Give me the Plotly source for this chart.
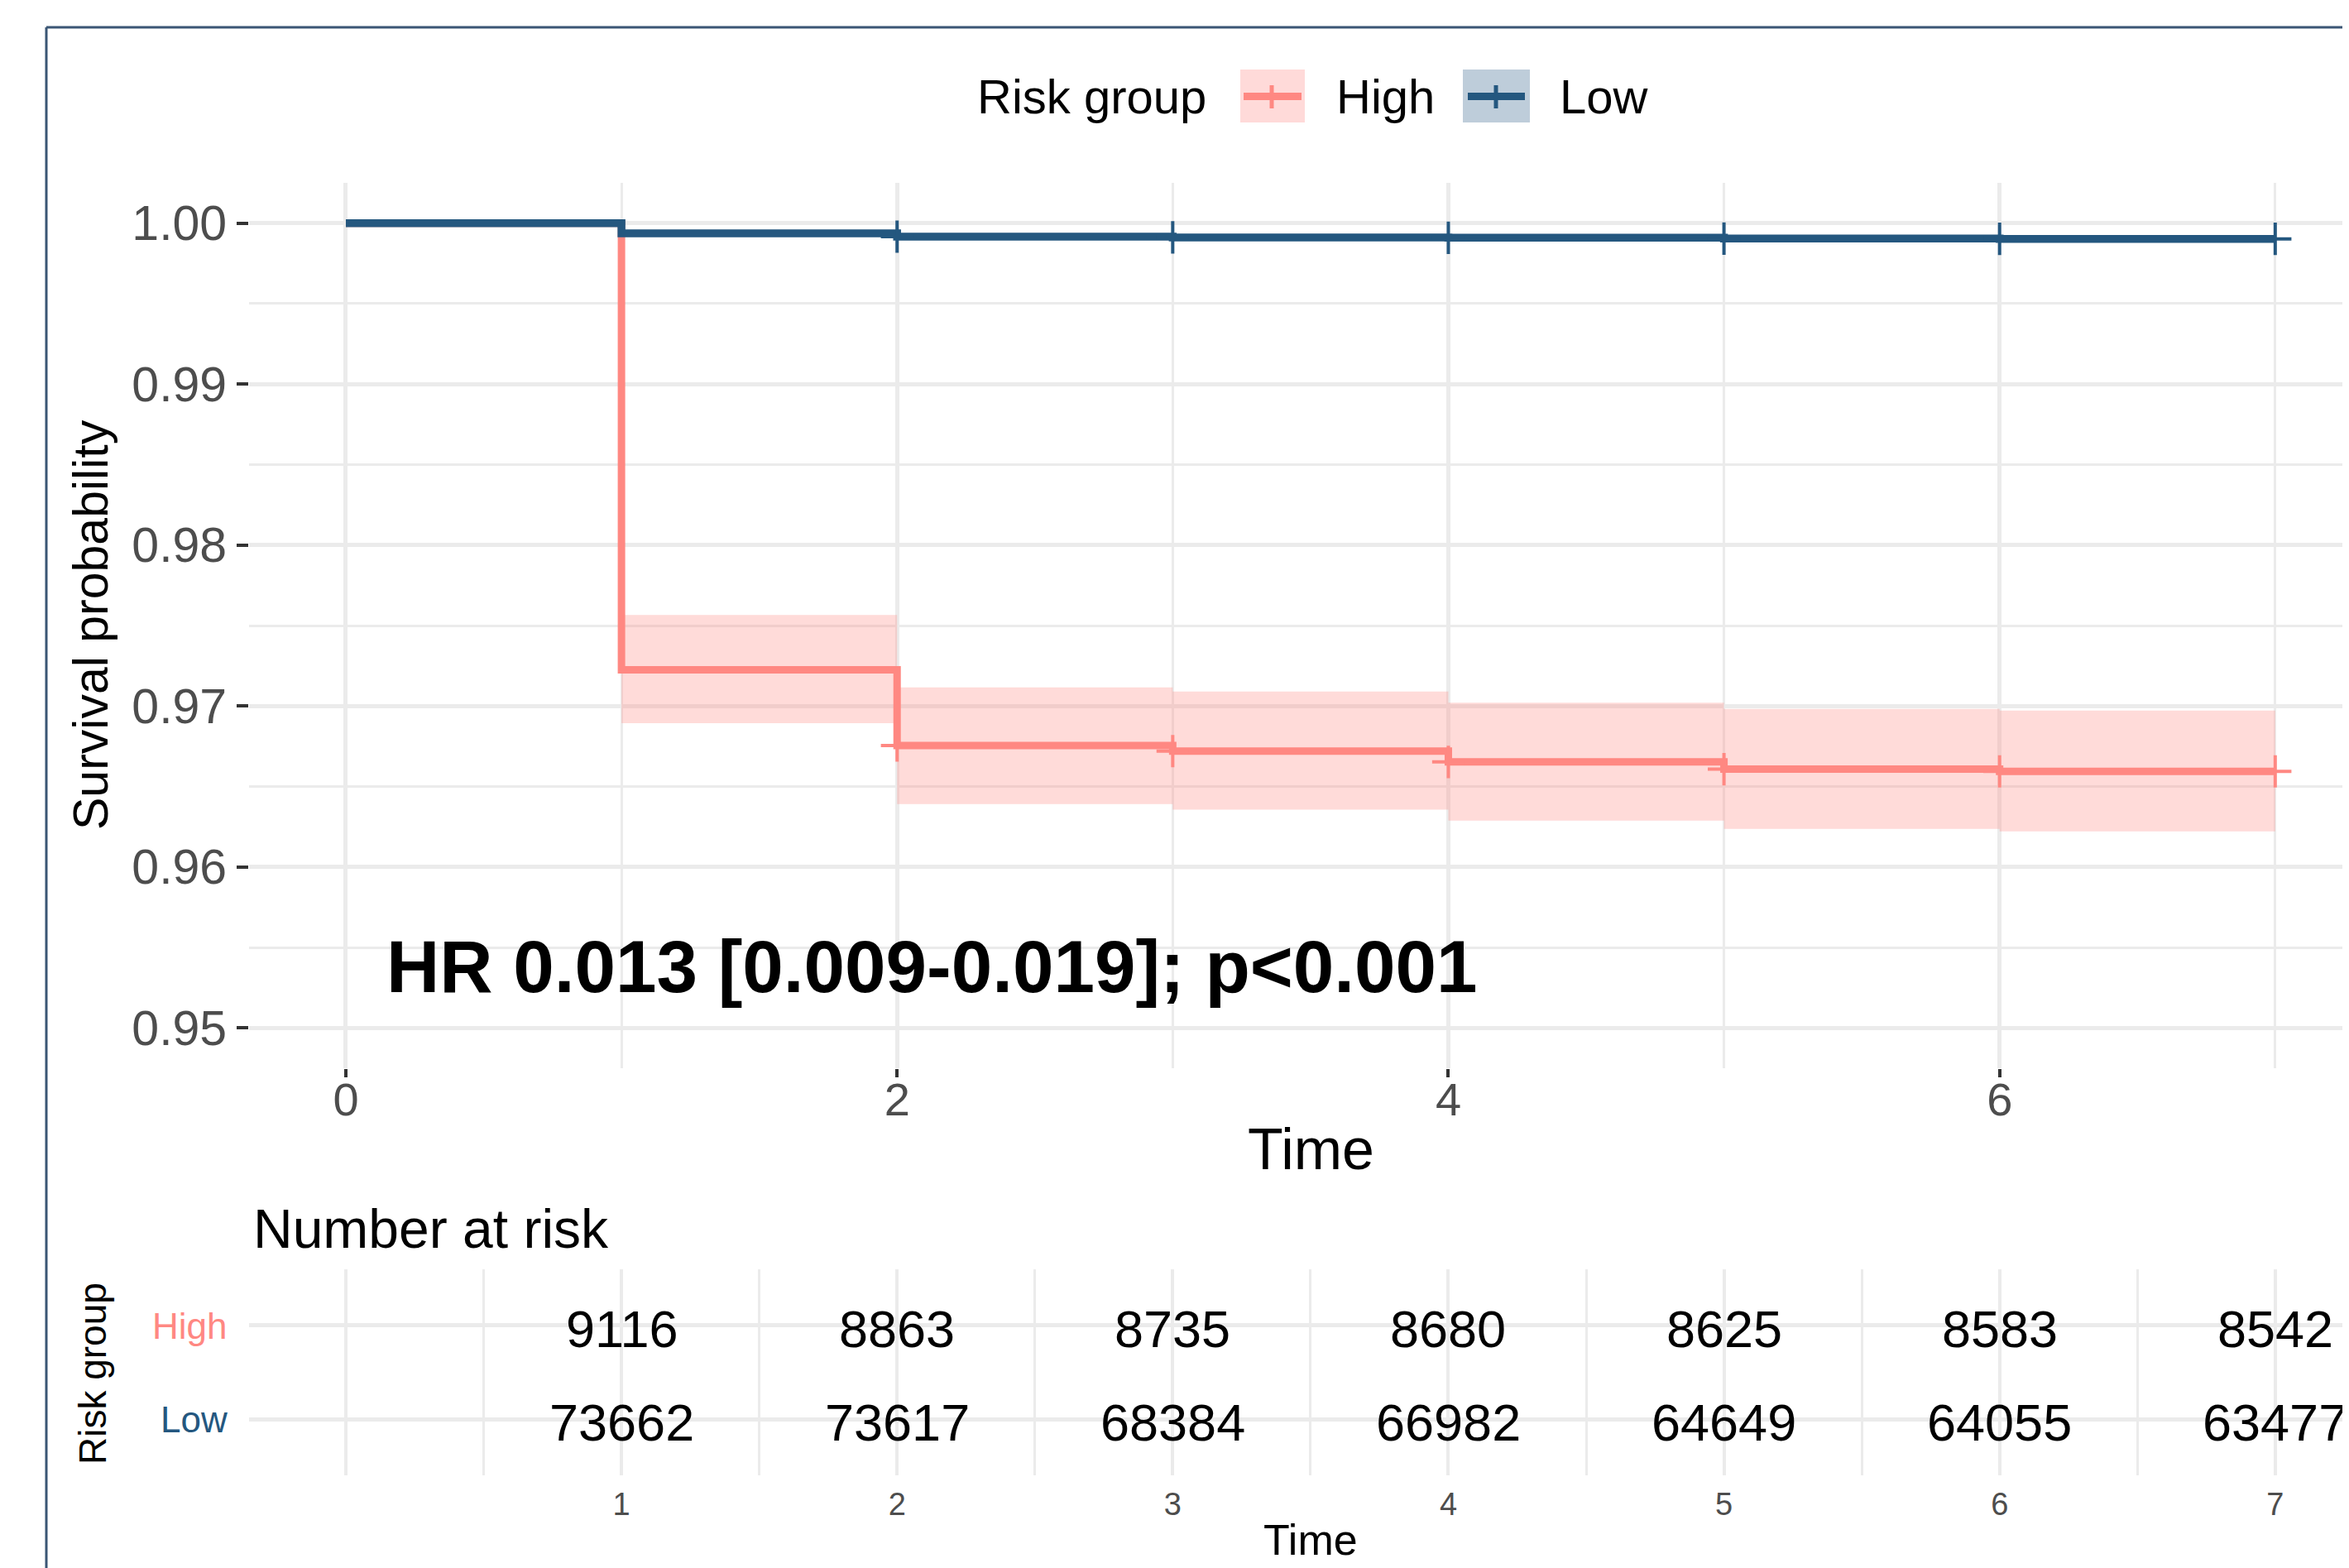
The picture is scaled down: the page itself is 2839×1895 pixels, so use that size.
import plotly.graph_objects as go

OFF = 8  # page body margin
W, H = 2839 - OFF, 1895 - OFF

# ---------------- data ----------------
step_times = [0, 1, 2, 3, 4, 5, 6, 7]
high_surv = [1.0, 0.97225, 0.96755, 0.96720, 0.96653, 0.96608, 0.96594, 0.96594]
high_upper = [1.0, 0.97566, 0.97116, 0.97090, 0.97021, 0.96982, 0.96972, 0.96972]
high_lower = [1.0, 0.96894, 0.96391, 0.96356, 0.96288, 0.96237, 0.96221, 0.96221]
low_surv = [1.0, 0.99936, 0.99916, 0.99911, 0.99909, 0.99904, 0.99902, 0.99902]
low_upper = [1.0, 0.99950, 0.99931, 0.99926, 0.99924, 0.99919, 0.99917, 0.99917]
low_lower = [1.0, 0.99922, 0.99901, 0.99896, 0.99894, 0.99889, 0.99887, 0.99887]
censor_times = [2, 3, 4, 5, 6, 7]

risk_times = [1, 2, 3, 4, 5, 6, 7]
high_risk = [9116, 8863, 8735, 8680, 8625, 8583, 8542]
low_risk = [73662, 73617, 68384, 66982, 64649, 64055, 63477]

groups = ["High", "Low"]
y_ticks = [0.95, 0.96, 0.97, 0.98, 0.99, 1.00]
x_ticks_main = [0, 2, 4, 6]
hr_text = "HR 0.013 [0.009-0.019]; p&lt;0.001"

# ---------------- style ----------------
FONT = "Liberation Sans, Arial, Helvetica, sans-serif"
HIGH = "#FF8882"
LOW = "#24577F"
HIGH_FILL = "rgba(255,136,130,0.30)"
LOW_FILL = "rgba(36,87,127,0.30)"
GRID = "#EBEBEB"
TICKC = "#4D4D4D"


def px(x):
    return (x - OFF) / W


def py(y):
    return 1 - (y - OFF) / H


def surv_at(times, vals, t):
    v = vals[0]
    for tt, vv in zip(times, vals):
        if tt <= t:
            v = vv
    return v


XR = [-0.3512, 7.2677]

fig = go.Figure()

# High band + line
fig.add_trace(go.Scatter(x=step_times, y=high_lower, mode="lines", line=dict(width=0, shape="hv"),
                         showlegend=False, hoverinfo="skip"))
fig.add_trace(go.Scatter(x=step_times, y=high_upper, mode="lines", line=dict(width=0, shape="hv"),
                         fill="tonexty", fillcolor=HIGH_FILL, showlegend=False, hoverinfo="skip"))
fig.add_trace(go.Scatter(x=step_times, y=high_surv, mode="lines", line=dict(color=HIGH, width=9, shape="hv"),
                         name="High", showlegend=False))
fig.add_trace(go.Scatter(x=censor_times, y=[surv_at(step_times, high_surv, t) for t in censor_times],
                         mode="markers", marker=dict(symbol="cross-thin", size=28,
                                                     line=dict(color=HIGH, width=4)),
                         showlegend=False))
# Low band + line
fig.add_trace(go.Scatter(x=step_times, y=low_lower, mode="lines", line=dict(width=0, shape="hv"),
                         showlegend=False, hoverinfo="skip"))
fig.add_trace(go.Scatter(x=step_times, y=low_upper, mode="lines", line=dict(width=0, shape="hv"),
                         fill="tonexty", fillcolor=LOW_FILL, showlegend=False, hoverinfo="skip"))
fig.add_trace(go.Scatter(x=step_times, y=low_surv, mode="lines", line=dict(color=LOW, width=9.5, shape="hv"),
                         name="Low", showlegend=False))
fig.add_trace(go.Scatter(x=censor_times, y=[surv_at(step_times, low_surv, t) for t in censor_times],
                         mode="markers", marker=dict(symbol="cross-thin", size=28,
                                                     line=dict(color=LOW, width=4)),
                         showlegend=False))

fig.update_layout(
    width=W, height=H,
    margin=dict(l=0, r=0, t=0, b=0),
    paper_bgcolor="white", plot_bgcolor="white",
    font=dict(family=FONT, color="black"),
    showlegend=False,
    xaxis=dict(domain=[px(301), 1.0], range=XR, tickvals=x_ticks_main,
               ticktext=[str(v) for v in x_ticks_main],
               showgrid=True, gridcolor=GRID, gridwidth=5, zeroline=False, showline=False,
               ticks="outside", ticklen=10, tickwidth=4, tickcolor="#333333",
               ticklabelstandoff=-21,
               tickfont=dict(size=56, color=TICKC, family=FONT),
               minor=dict(tickmode="array", tickvals=[1, 3, 5, 7], showgrid=True,
                          gridcolor=GRID, gridwidth=3, ticks=""),
               anchor="y"),
    yaxis=dict(domain=[py(1291), py(221)], range=[0.9475, 1.0025], tickvals=y_ticks,
               ticktext=["%.2f" % v for v in y_ticks],
               showgrid=True, gridcolor=GRID, gridwidth=5, zeroline=False, showline=False,
               ticks="outside", ticklen=14, tickwidth=4, tickcolor="#333333",
               tickfont=dict(size=59, color=TICKC, family=FONT),
               minor=dict(tickmode="array", tickvals=[0.955, 0.965, 0.975, 0.985, 0.995],
                          showgrid=True, gridcolor=GRID, gridwidth=3, ticks=""),
               anchor="x"),
    xaxis2=dict(domain=[px(301), 1.0], range=XR, tickvals=[0, 1, 2, 3, 4, 5, 6, 7],
                ticktext=[""] + [str(v) for v in risk_times],
                showgrid=True, gridcolor=GRID, gridwidth=4, zeroline=False, showline=False,
                ticks="", ticklabelstandoff=9, tickfont=dict(size=38, color=TICKC, family=FONT),
                minor=dict(tickmode="array", tickvals=[0.5, 1.5, 2.5, 3.5, 4.5, 5.5, 6.5],
                           showgrid=True, gridcolor=GRID, gridwidth=3, ticks=""),
                anchor="y2"),
    yaxis2=dict(domain=[py(1783), py(1534)], range=[0.4, 2.6], tickvals=[1, 2],
                showticklabels=False, showgrid=True, gridcolor=GRID, gridwidth=5,
                zeroline=False, showline=False, ticks="", anchor="x2"),
)

# invisible trace so the table axes are drawn
fig.add_trace(go.Scatter(x=risk_times, y=[1.5] * len(risk_times), mode="markers",
                         marker=dict(opacity=0), xaxis="x2", yaxis="y2",
                         showlegend=False, hoverinfo="skip"))

shapes = []
# outer frame: only top and left edges are visible in the crop
FRAME = "#3B5675"
shapes.append(dict(type="line", xref="paper", yref="paper", x0=px(56), x1=1.05, y0=py(33), y1=py(33),
                   line=dict(color=FRAME, width=3), layer="above"))
shapes.append(dict(type="line", xref="paper", yref="paper", x0=px(56), x1=px(56), y0=py(33), y1=-0.05,
                   line=dict(color=FRAME, width=3), layer="above"))
# legend keys
for (bx0, bx1, lx0, lx1, vx, col, fill) in [
    (1499, 1577, 1503, 1573, 1537, HIGH, "#FFDAD9"),
    (1768, 1849, 1774, 1843, 1808, LOW, "#BECDDA"),
]:
    shapes.append(dict(type="rect", xref="paper", yref="paper", x0=px(bx0), x1=px(bx1),
                       y0=py(148), y1=py(84), fillcolor=fill, line=dict(width=0)))
    shapes.append(dict(type="line", xref="paper", yref="paper", x0=px(lx0), x1=px(lx1),
                       y0=py(116.5), y1=py(116.5), line=dict(color=col, width=9)))
    shapes.append(dict(type="line", xref="paper", yref="paper", x0=px(vx), x1=px(vx),
                       y0=py(103), y1=py(131), line=dict(color=col, width=5)))
fig.update_layout(shapes=shapes)

ann = []


def text(x, y, s, size, color="black", xanchor="center", angle=0, bold=False):
    ann.append(dict(x=px(x), y=py(y), xref="paper", yref="paper", text=("<b>%s</b>" % s) if bold else s,
                    showarrow=False, xanchor=xanchor, yanchor="middle", textangle=angle,
                    font=dict(family=FONT, size=size, color=color)))


# Risk table numbers, placed through the table axes
for row_y, counts in [(2, high_risk), (1, low_risk)]:
    for t, n in zip(risk_times, counts):
        ann.append(dict(x=t, y=row_y, xref="x2", yref="y2", text=str(n), showarrow=False,
                        xanchor="center", yanchor="middle", yshift=-4,
                        font=dict(family=FONT, size=63, color="black")))

text(1179, 116, "Risk group", 58, xanchor="left")
text(1613, 116, groups[0], 58, xanchor="left")
text(1883, 116, groups[1], 58, xanchor="left")
text(110, 755, "Survival probability", 59, angle=-90)
text(1584, 1389, "Time", 70)
text(465, 1168, hr_text, 89, xanchor="left", bold=True)
text(304, 1485, "Number at risk", 66, xanchor="left")
text(277, 1602, groups[0], 44, color=HIGH, xanchor="right")
text(277, 1715, groups[1], 44, color=LOW, xanchor="right")
text(112, 1660, "Risk group", 46, angle=-90)
text(1584, 1861, "Time", 52)
fig.update_layout(annotations=ann)

fig.write_html("out.html")
